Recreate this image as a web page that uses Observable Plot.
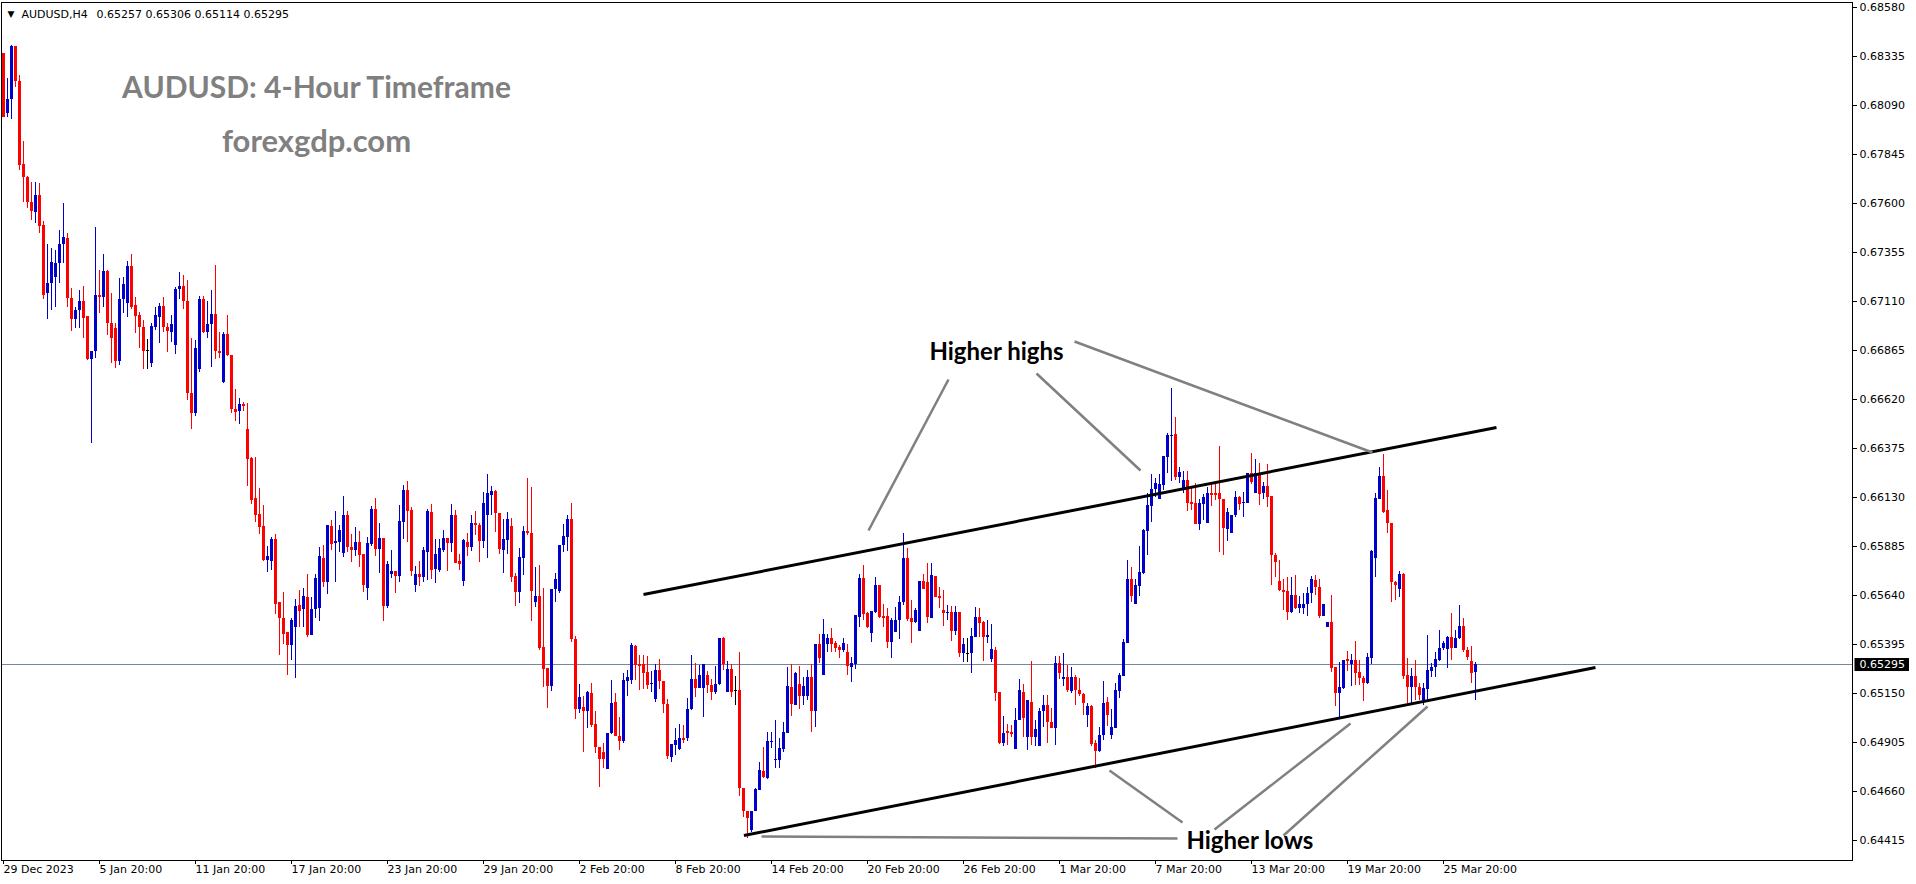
<!DOCTYPE html>
<html>
<head>
<meta charset="utf-8">
<script src="https://cdn.jsdelivr.net/npm/d3@7"></script>
<script src="https://cdn.jsdelivr.net/npm/@observablehq/plot@0.6"></script>
<style>
html,body{margin:0;padding:0;background:#fff;}
#chart svg{display:block;}
</style>
</head>
<body>
<div id="chart"></div>
<script>
// ---- AUDUSD H4 candles (index 0 = 29 Dec 2023 00:00) ----
const candleOpen = [
0.68350,0.68050,0.68120,0.68385,0.68210,0.67795,0.67730,0.67605,0.67555,0.67640,
0.67490,0.67150,0.67200,0.67230,0.67300,0.67395,0.67425,0.67125,0.67020,0.67065,
0.67110,0.67035,0.66820,0.66860,0.67140,0.67130,0.67260,0.67000,0.66975,0.66810,
0.67120,0.67100,0.67285,0.67090,0.67040,0.66980,0.66865,0.66800,0.66980,0.67030,
0.67085,0.66980,0.66955,0.66890,0.67170,0.67185,0.67110,0.66650,0.66550,0.66770,
0.67120,0.66955,0.66995,0.67045,0.66860,0.66705,0.66945,0.66840,0.66570,0.66560,
0.66595,0.66470,0.66325,0.66125,0.66045,0.65985,0.65815,0.65810,0.65920,0.65605,
0.65525,0.65455,0.65390,0.65480,0.65590,0.65570,0.65630,0.65440,0.65570,0.65575,
0.65825,0.65705,0.65985,0.65900,0.65905,0.65850,0.66040,0.65880,0.65865,0.65905,
0.65845,0.65675,0.65895,0.66070,0.65870,0.65925,0.65585,0.65745,0.65760,0.65735,
0.66005,0.66165,0.66065,0.65690,0.65745,0.65730,0.65855,0.66055,0.65770,0.65765,
0.65865,0.65925,0.65900,0.66040,0.65810,0.65710,0.65905,0.65880,0.66000,0.65990,
0.65910,0.66040,0.66140,0.66160,0.66050,0.65865,0.65915,0.65985,0.65735,0.65655,
0.65825,0.65960,0.65950,0.65605,0.65635,0.65380,0.65275,0.65185,0.65670,0.65660,
0.65890,0.65930,0.66020,0.65420,0.65070,0.65080,0.65060,0.65150,0.64995,0.64880,
0.64855,0.64770,0.64950,0.65105,0.64935,0.64910,0.65210,0.65215,0.65385,0.65295,
0.65295,0.65255,0.65195,0.65120,0.65265,0.65210,0.65095,0.64830,0.64890,0.64870,
0.64925,0.64925,0.65070,0.65220,0.65175,0.65175,0.65240,0.65190,0.65155,0.65195,
0.65425,0.65155,0.65270,0.65165,0.65165,0.64675,0.64560,0.64465,0.64560,0.64665,
0.64760,0.64725,0.64905,0.64815,0.64815,0.64870,0.64950,0.65180,0.65090,0.65195,
0.65135,0.65135,0.65230,0.65060,0.65395,0.65240,0.65395,0.65425,0.65400,0.65380,
0.65365,0.65355,0.65280,0.65295,0.65530,0.65725,0.65550,0.65450,0.65555,0.65690,
0.65535,0.65535,0.65405,0.65455,0.65515,0.65605,0.65825,0.65525,0.65505,0.65460,
0.65710,0.65705,0.65525,0.65735,0.65635,0.65565,0.65550,0.65555,0.65460,0.65555,
0.65350,0.65350,0.65350,0.65430,0.65530,0.65505,0.65430,0.65320,0.65365,0.65155,
0.64900,0.64960,0.64955,0.64870,0.65015,0.65155,0.64930,0.65105,0.64930,0.64885,
0.65060,0.65090,0.65005,0.64975,0.65300,0.65220,0.65230,0.65160,0.65230,0.65165,
0.65145,0.65040,0.65085,0.64900,0.64860,0.64940,0.65105,0.64940,0.64975,0.65160,
0.65235,0.65400,0.65720,0.65595,0.65685,0.65750,0.65960,0.66085,0.66170,0.66120,
0.66190,0.66330,0.66435,0.66445,0.66230,0.66170,0.66215,0.66105,0.66100,0.65995,
0.66095,0.66000,0.66150,0.66150,0.66150,0.66120,0.65970,0.65950,0.66040,0.66130,
0.66100,0.66100,0.66250,0.66150,0.66250,0.66150,0.66185,0.66135,0.65840,0.65710,
0.65665,0.65660,0.65555,0.65640,0.65575,0.65575,0.65595,0.65650,0.65715,0.65680,
0.65535,0.65480,0.65505,0.65280,0.65150,0.65175,0.65320,0.65295,0.65315,0.65255,
0.65225,0.65200,0.65325,0.65825,0.66120,0.66235,0.66065,0.66000,0.65705,0.65670,
0.65745,0.65240,0.65180,0.65235,0.65180,0.65115,0.65170,0.65260,0.65280,0.65315,
0.65375,0.65370,0.65430,0.65375,0.65425,0.65485,0.65365,0.65310,0.65257
];
const candleHigh = [
0.68350,0.68225,0.68390,0.68385,0.68240,0.67910,0.67735,0.67705,0.67705,0.67700,
0.67510,0.67395,0.67375,0.67365,0.67465,0.67600,0.67450,0.67175,0.67080,0.67165,
0.67185,0.67035,0.66860,0.67480,0.67265,0.67345,0.67265,0.67150,0.67000,0.67225,
0.67230,0.67310,0.67345,0.67130,0.67055,0.67015,0.66920,0.67000,0.67080,0.67100,
0.67130,0.67000,0.67040,0.67180,0.67255,0.67240,0.67215,0.66925,0.66915,0.67135,
0.67135,0.67110,0.67165,0.67290,0.66955,0.66955,0.67040,0.66840,0.66670,0.66625,
0.66605,0.66600,0.66330,0.66330,0.66175,0.66090,0.65885,0.65930,0.65945,0.65605,
0.65655,0.65455,0.65525,0.65620,0.65665,0.65675,0.65745,0.65630,0.65745,0.65880,
0.65890,0.65990,0.66015,0.66060,0.65990,0.66135,0.66060,0.65945,0.65980,0.65960,
0.65845,0.65930,0.66085,0.66125,0.66000,0.65925,0.65810,0.65865,0.65760,0.66090,
0.66190,0.66210,0.66080,0.65785,0.65810,0.65880,0.66070,0.66095,0.65920,0.65920,
0.65965,0.65925,0.66095,0.66065,0.65845,0.65920,0.65950,0.66040,0.66060,0.66000,
0.66155,0.66245,0.66185,0.66165,0.66050,0.66020,0.66055,0.66025,0.65750,0.65875,
0.65985,0.66225,0.66180,0.65780,0.65790,0.65675,0.65275,0.65670,0.65750,0.65890,
0.65995,0.66040,0.66100,0.65435,0.65195,0.65135,0.65160,0.65200,0.65060,0.64880,
0.64900,0.64950,0.65215,0.65150,0.65030,0.65250,0.65265,0.65400,0.65390,0.65340,
0.65340,0.65335,0.65260,0.65295,0.65320,0.65210,0.65120,0.64895,0.64975,0.64995,
0.64990,0.65125,0.65340,0.65300,0.65290,0.65295,0.65260,0.65220,0.65285,0.65425,
0.65430,0.65310,0.65295,0.65235,0.65355,0.64675,0.64560,0.64560,0.64675,0.64805,
0.64880,0.64955,0.64955,0.65015,0.64925,0.65005,0.65280,0.65295,0.65255,0.65285,
0.65230,0.65265,0.65295,0.65395,0.65445,0.65520,0.65445,0.65475,0.65410,0.65390,
0.65425,0.65395,0.65330,0.65540,0.65745,0.65790,0.65555,0.65560,0.65730,0.65690,
0.65595,0.65575,0.65525,0.65580,0.65635,0.65950,0.65875,0.65615,0.65575,0.65710,
0.65745,0.65800,0.65800,0.65735,0.65680,0.65665,0.65590,0.65585,0.65585,0.65555,
0.65425,0.65425,0.65475,0.65580,0.65575,0.65510,0.65515,0.65495,0.65380,0.65155,
0.65035,0.64995,0.64990,0.65075,0.65220,0.65195,0.65115,0.65310,0.65015,0.65075,
0.65140,0.65140,0.65075,0.65335,0.65335,0.65350,0.65290,0.65280,0.65240,0.65225,
0.65150,0.65100,0.65090,0.64915,0.64980,0.65210,0.65130,0.65070,0.65200,0.65250,
0.65420,0.65815,0.65780,0.65720,0.65885,0.65970,0.66150,0.66245,0.66225,0.66245,
0.66335,0.66450,0.66675,0.66530,0.66280,0.66260,0.66260,0.66185,0.66200,0.66120,
0.66145,0.66180,0.66195,0.66200,0.66385,0.66120,0.66075,0.66040,0.66160,0.66135,
0.66155,0.66250,0.66350,0.66320,0.66300,0.66205,0.66295,0.66135,0.65850,0.65815,
0.65720,0.65730,0.65730,0.65740,0.65635,0.65650,0.65680,0.65735,0.65740,0.65720,
0.65595,0.65505,0.65640,0.65280,0.65305,0.65315,0.65360,0.65345,0.65410,0.65315,
0.65235,0.65350,0.65865,0.66150,0.66280,0.66345,0.66165,0.66000,0.65710,0.65760,
0.65750,0.65325,0.65275,0.65315,0.65200,0.65200,0.65440,0.65300,0.65355,0.65465,
0.65410,0.65435,0.65550,0.65465,0.65590,0.65525,0.65380,0.65385,0.65306
];
const candleLow = [
0.68030,0.68030,0.68020,0.68180,0.67765,0.67605,0.67575,0.67515,0.67500,0.67450,
0.67120,0.67020,0.67065,0.67080,0.67200,0.67300,0.67080,0.66960,0.66975,0.66975,
0.66925,0.66815,0.66400,0.66825,0.67050,0.67080,0.66940,0.66800,0.66775,0.66790,
0.67050,0.67030,0.67070,0.66950,0.66875,0.66770,0.66770,0.66780,0.66965,0.66900,
0.66955,0.66855,0.66905,0.66845,0.67120,0.67070,0.66615,0.66470,0.66535,0.66755,
0.66950,0.66925,0.66780,0.66820,0.66825,0.66700,0.66835,0.66550,0.66510,0.66495,
0.66560,0.66185,0.66095,0.66005,0.65945,0.65810,0.65755,0.65765,0.65545,0.65340,
0.65395,0.65240,0.65315,0.65225,0.65480,0.65480,0.65430,0.65440,0.65525,0.65510,
0.65680,0.65645,0.65865,0.65705,0.65855,0.65830,0.65855,0.65805,0.65835,0.65780,
0.65655,0.65615,0.65885,0.65835,0.65750,0.65510,0.65575,0.65725,0.65650,0.65705,
0.65920,0.65905,0.65735,0.65655,0.65685,0.65705,0.65715,0.65720,0.65700,0.65755,
0.65855,0.65760,0.65855,0.65800,0.65765,0.65685,0.65835,0.65860,0.65940,0.65805,
0.65875,0.65825,0.66040,0.65955,0.65845,0.65750,0.65845,0.65705,0.65585,0.65600,
0.65740,0.65940,0.65510,0.65580,0.65365,0.65180,0.65075,0.65160,0.65605,0.65650,
0.65855,0.65860,0.65405,0.65020,0.65050,0.64855,0.64975,0.64980,0.64850,0.64680,
0.64775,0.64770,0.64945,0.64935,0.64865,0.64900,0.65135,0.65195,0.65215,0.65165,
0.65170,0.65170,0.65155,0.65105,0.65170,0.65050,0.64820,0.64805,0.64840,0.64865,
0.64900,0.64910,0.65065,0.65130,0.65175,0.65030,0.65150,0.65115,0.65145,0.65190,
0.65265,0.65155,0.65130,0.65090,0.64635,0.64530,0.64425,0.64455,0.64560,0.64665,
0.64725,0.64720,0.64875,0.64775,0.64775,0.64855,0.64950,0.65035,0.65090,0.65070,
0.65090,0.65115,0.64955,0.64980,0.65300,0.65240,0.65355,0.65355,0.65355,0.65325,
0.65355,0.65240,0.65205,0.65270,0.65480,0.65515,0.65475,0.65405,0.65550,0.65525,
0.65480,0.65375,0.65325,0.65455,0.65420,0.65590,0.65510,0.65400,0.65500,0.65460,
0.65670,0.65500,0.65525,0.65630,0.65575,0.65485,0.65515,0.65410,0.65440,0.65330,
0.65305,0.65305,0.65250,0.65430,0.65430,0.65310,0.65400,0.65305,0.65110,0.64895,
0.64885,0.64890,0.64930,0.64870,0.65015,0.64930,0.64865,0.64890,0.64885,0.64885,
0.64980,0.64900,0.64975,0.64890,0.65220,0.65185,0.65155,0.65150,0.65090,0.65135,
0.65040,0.64980,0.64885,0.64775,0.64855,0.64915,0.64985,0.64920,0.64975,0.65125,
0.65235,0.65400,0.65605,0.65595,0.65635,0.65745,0.65840,0.66005,0.66130,0.66120,
0.66165,0.66250,0.66210,0.66215,0.66200,0.66150,0.66060,0.66065,0.65995,0.65965,
0.66015,0.66000,0.66085,0.66115,0.65855,0.65840,0.65910,0.65950,0.66030,0.66065,
0.66030,0.66100,0.66195,0.66150,0.66090,0.66120,0.66080,0.65690,0.65730,0.65660,
0.65565,0.65515,0.65550,0.65570,0.65550,0.65545,0.65535,0.65600,0.65640,0.65525,
0.65535,0.65480,0.65255,0.65085,0.65030,0.65170,0.65260,0.65185,0.65190,0.65190,
0.65110,0.65195,0.65295,0.65730,0.66120,0.66050,0.65950,0.65605,0.65615,0.65630,
0.65220,0.65100,0.65100,0.65115,0.65115,0.65090,0.65115,0.65230,0.65230,0.65310,
0.65365,0.65275,0.65315,0.65375,0.65420,0.65355,0.65315,0.65200,0.65114
];
const candleClose = [
0.68030,0.68120,0.68385,0.68210,0.67790,0.67730,0.67605,0.67560,0.67640,0.67485,
0.67140,0.67200,0.67305,0.67300,0.67395,0.67430,0.67125,0.67020,0.67065,0.67110,
0.67025,0.66820,0.66860,0.67140,0.67135,0.67260,0.67000,0.66925,0.66810,0.67120,
0.67195,0.67285,0.67080,0.67035,0.66980,0.66860,0.66865,0.66985,0.67040,0.67085,
0.66980,0.66960,0.66995,0.67170,0.67185,0.67110,0.66650,0.66550,0.66875,0.67120,
0.66955,0.66995,0.67045,0.66860,0.66850,0.66945,0.66840,0.66570,0.66555,0.66595,
0.66590,0.66320,0.66115,0.66040,0.65980,0.65815,0.65835,0.65920,0.65595,0.65525,
0.65445,0.65390,0.65515,0.65585,0.65560,0.65635,0.65440,0.65570,0.65725,0.65835,
0.65705,0.65990,0.65895,0.65910,0.65965,0.66040,0.65880,0.65865,0.65905,0.65840,
0.65690,0.65900,0.66070,0.65870,0.65925,0.65585,0.65795,0.65760,0.65735,0.66010,
0.66165,0.66060,0.65760,0.65745,0.65730,0.65865,0.66060,0.65765,0.65845,0.65875,
0.65925,0.65900,0.66040,0.65800,0.65795,0.65915,0.65880,0.66000,0.65990,0.65910,
0.66100,0.66150,0.66160,0.66050,0.65870,0.65920,0.66020,0.65730,0.65655,0.65830,
0.65960,0.65950,0.65660,0.65635,0.65375,0.65270,0.65185,0.65670,0.65720,0.65890,
0.65935,0.66020,0.65420,0.65070,0.65130,0.65060,0.65155,0.64990,0.64880,0.64820,
0.64820,0.64950,0.65100,0.64935,0.64910,0.65215,0.65230,0.65390,0.65290,0.65285,
0.65250,0.65190,0.65200,0.65265,0.65210,0.65095,0.64835,0.64895,0.64915,0.64925,
0.64920,0.65070,0.65220,0.65175,0.65240,0.65295,0.65190,0.65155,0.65195,0.65425,
0.65295,0.65270,0.65155,0.65165,0.64675,0.64560,0.64525,0.64560,0.64670,0.64765,
0.64730,0.64910,0.64910,0.64820,0.64875,0.64955,0.65185,0.65095,0.65250,0.65135,
0.65185,0.65230,0.65060,0.65395,0.65325,0.65445,0.65425,0.65395,0.65375,0.65365,
0.65400,0.65285,0.65300,0.65540,0.65725,0.65545,0.65480,0.65560,0.65690,0.65530,
0.65530,0.65405,0.65515,0.65515,0.65605,0.65825,0.65520,0.65505,0.65565,0.65710,
0.65670,0.65530,0.65740,0.65630,0.65630,0.65550,0.65555,0.65460,0.65555,0.65350,
0.65395,0.65350,0.65435,0.65530,0.65500,0.65430,0.65440,0.65370,0.65150,0.64900,
0.64950,0.64950,0.64950,0.65015,0.65165,0.65025,0.65115,0.64930,0.64970,0.65060,
0.65090,0.65005,0.64975,0.65300,0.65250,0.65230,0.65165,0.65230,0.65165,0.65145,
0.65100,0.65085,0.64895,0.64860,0.64940,0.65100,0.65040,0.64980,0.65165,0.65240,
0.65405,0.65720,0.65635,0.65690,0.65755,0.65965,0.66090,0.66170,0.66200,0.66195,
0.66335,0.66440,0.66440,0.66230,0.66255,0.66215,0.66100,0.66100,0.65995,0.66100,
0.66130,0.66150,0.66145,0.66145,0.66120,0.65975,0.66055,0.66040,0.66130,0.66095,
0.66105,0.66250,0.66205,0.66250,0.66145,0.66185,0.66130,0.65840,0.65805,0.65665,
0.65655,0.65555,0.65640,0.65575,0.65595,0.65595,0.65650,0.65720,0.65680,0.65535,
0.65595,0.65505,0.65275,0.65150,0.65180,0.65315,0.65310,0.65315,0.65250,0.65225,
0.65200,0.65330,0.65860,0.66125,0.66235,0.66055,0.66000,0.65705,0.65690,0.65745,
0.65235,0.65180,0.65235,0.65180,0.65140,0.65175,0.65265,0.65280,0.65320,0.65375,
0.65400,0.65430,0.65375,0.65425,0.65485,0.65365,0.65330,0.65250,0.65295
];

// ---- axis ticks ----
const yTickValues = [0.68580,0.68335,0.68090,0.67845,0.67600,0.67355,0.67110,0.66865,0.66620,
  0.66375,0.66130,0.65885,0.65640,0.65395,0.65150,0.64905,0.64660,0.64415];
const xTickIndex = [0,24,48,72,96,120,144,168,192,216,240,264,288,312,336,360];
const xTickLabels = ["29 Dec 2023","5 Jan 20:00","11 Jan 20:00","17 Jan 20:00","23 Jan 20:00",
  "29 Jan 20:00","2 Feb 20:00","8 Feb 20:00","14 Feb 20:00","20 Feb 20:00","26 Feb 20:00",
  "1 Mar 20:00","7 Mar 20:00","13 Mar 20:00","19 Mar 20:00","25 Mar 20:00"];

// ---- channel trendlines (candle index, price) ----
const trendX1 = [160.0, 185.1];
const trendY1 = [0.65645, 0.64440];
const trendX2 = [373.25, 398.0];
const trendY2 = [0.66480, 0.65280];

// ---- annotation pointer lines ----
const annoX1 = [236.25, 258.25, 267.75, 189.5, 294.75, 302.75, 320.0];
const annoY1 = [0.66720, 0.66750, 0.66910, 0.64435, 0.64505, 0.64470, 0.64440];
const annoX2 = [216.25, 284.25, 342.25, 293.5, 276.5, 336.75, 356.0];
const annoY2 = [0.65965, 0.66265, 0.66355, 0.64425, 0.64765, 0.65000, 0.65085];

const noteText = ["Higher highs", "Higher lows"];
const noteX = [248.25, 311.6];
const noteY = [0.66858, 0.64413];

const symbolName = "AUDUSD,H4";
const titleText = "AUDUSD: 4-Hour Timeframe";
const siteText = "forexgdp.com";

// ---- build ----
const BULL = "#0000CD", BEAR = "#FF0000", FLAT = "#000000";
const candles = candleOpen.map((o, i) => ({i, o, h: candleHigh[i], l: candleLow[i], c: candleClose[i]}));
const colorOf = d => d.c > d.o ? BULL : d.c < d.o ? BEAR : FLAT;
const last = candles[candles.length - 1];
const headerValues = [last.o, last.h, last.l, last.c].map(v => v.toFixed(5)).join(" ");
const priceStr = last.c.toFixed(5);

const trend = trendX1.map((x, k) => ({x1: x, y1: trendY1[k], x2: trendX2[k], y2: trendY2[k]}));
const anno = annoX1.map((x, k) => ({x1: x, y1: annoY1[k], x2: annoX2[k], y2: annoY2[k]}));
const notes = noteText.map((t, k) => ({t, x: noteX[k], y: noteY[k]}));

const chart = Plot.plot({
  width: 1916,
  height: 884,
  marginLeft: 1,
  marginRight: 64,
  marginTop: 2,
  marginBottom: 24,
  style: {fontFamily: "'DejaVu Sans', sans-serif", fontSize: "11px", color: "#000", background: "#fff", overflow: "visible"},
  x: {type: "linear", domain: [-0.5, 462.25]},
  y: {type: "linear", domain: [0.64315, 0.68605]},
  marks: [
    Plot.ruleY([last.c], {stroke: "#778899", strokeWidth: 1, shapeRendering: "crispEdges"}),
    Plot.ruleX(candles, {x: "i", y1: "l", y2: "h", stroke: colorOf, strokeWidth: 1, shapeRendering: "crispEdges"}),
    Plot.ruleX(candles, {x: "i", y1: "o", y2: "c", stroke: colorOf, strokeWidth: 3, shapeRendering: "crispEdges"}),
    Plot.ruleY(candles.filter(d => Math.abs(d.c - d.o) < 0.00006), {
      y: "c", x1: d => d.i - 0.375, x2: d => d.i + 0.375, stroke: colorOf, strokeWidth: 1, shapeRendering: "crispEdges"
    }),
    Plot.link(trend, {x1: "x1", y1: "y1", x2: "x2", y2: "y2", stroke: "#000", strokeWidth: 3}),
    Plot.link(anno, {x1: "x1", y1: "y1", x2: "x2", y2: "y2", stroke: "#808080", strokeWidth: 2.5}),
    Plot.text(notes, {x: "x", y: "y", text: "t", textAnchor: "middle", lineAnchor: "middle",
      fontFamily: "Lato, 'Open Sans', sans-serif", fontWeight: "bold", fontSize: 24, fill: "#000"}),
    Plot.text([titleText], {frameAnchor: "top-left", dx: 315, dy: 95, textAnchor: "middle", lineAnchor: "bottom",
      fontFamily: "Lato, 'Open Sans', sans-serif", fontWeight: "bold", fontSize: 30, fill: "#808080"}),
    Plot.text([siteText], {frameAnchor: "top-left", dx: 315, dy: 149, textAnchor: "middle", lineAnchor: "bottom",
      fontFamily: "Lato, 'Open Sans', sans-serif", fontWeight: "bold", fontSize: 31, fill: "#808080"}),
    Plot.text(["\u25BC"], {frameAnchor: "top-left", dx: 6, dy: 14, textAnchor: "start", lineAnchor: "bottom", fontSize: 9, fill: "#000"}),
    Plot.text([symbolName], {frameAnchor: "top-left", dx: 20, dy: 15, textAnchor: "start", lineAnchor: "bottom", fill: "#000"}),
    Plot.text([headerValues], {frameAnchor: "top-left", dx: 95, dy: 15, textAnchor: "start", lineAnchor: "bottom", fill: "#000"}),
    Plot.frame({stroke: "#000", strokeWidth: 1}),
    Plot.axisY({anchor: "right", ticks: yTickValues, tickFormat: d => d.toFixed(5), tickSize: 4, tickPadding: 3, label: null, stroke: "#000", fill: "#000"}),
    Plot.axisX({anchor: "bottom", ticks: xTickIndex, tickFormat: d => xTickLabels[xTickIndex.indexOf(d)], tickSize: 4, tickPadding: 1,
      textAnchor: "start", label: null, stroke: "#000", fill: "#000"}),
    Plot.text([priceStr], {y: d => +d, text: d => d, frameAnchor: "right", dx: 7, textAnchor: "start", lineAnchor: "middle", fill: "#fff"})
  ]
});

document.getElementById("chart").append(chart);

// black box behind the current-price label
const priceText = Array.from(chart.querySelectorAll("text")).find(t => t.textContent === priceStr);
if (priceText) {
  const b = priceText.getBBox();
  const r = document.createElementNS("http://www.w3.org/2000/svg", "rect");
  r.setAttribute("x", b.x - 5);
  r.setAttribute("y", b.y);
  r.setAttribute("width", b.width + 9);
  r.setAttribute("height", b.height);
  r.setAttribute("fill", "#000");
  const tr = priceText.getAttribute("transform");
  if (tr) r.setAttribute("transform", tr);
  priceText.parentNode.insertBefore(r, priceText);
}
</script>
</body>
</html>
